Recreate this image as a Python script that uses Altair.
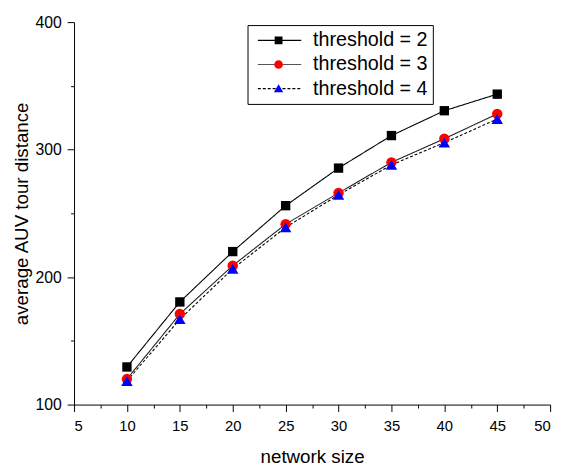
import altair as alt
import pandas as pd

# ---- data ----
network_size = [10, 15, 20, 25, 30, 35, 40, 45]
threshold_2 = [129.5, 180.5, 220, 256, 285.5, 311, 330.5, 343.5]
threshold_3 = [120, 171, 209, 241.5, 266, 290, 308.5, 328]
threshold_4 = [118.5, 167, 206.5, 239, 264.5, 288, 305.5, 324]

series_labels = ["threshold = 2", "threshold = 3", "threshold = 4"]
series_keys = ["m2", "m3", "m4"]
series_values = [threshold_2, threshold_3, threshold_4]

x_tick_values = [5, 7.5, 10, 12.5, 15, 17.5, 20, 22.5, 25, 27.5, 30, 32.5,
                 35, 37.5, 40, 42.5, 45, 47.5, 50]
y_tick_values = [100, 150, 200, 250, 300, 350, 400]

# ---- styles ----
FONT = "Liberation Sans"
line_colors = ["#000000", "#555555", "#000000"]
plot_line_colors = ["#000000", "#222222", "#000000"]
line_dashes = [[1, 0], [1, 0], [3, 2]]
marker_colors = ["#000000", "#ff0000", "#0000ff"]
marker_shapes = ["square", "circle", "triangle-up"]
marker_sizes = [90, 112, 135]
# legend symbols (unit = 22 px): marker only
legend_marker_paths = [
    "M-0.18,-0.18H0.18V0.18H-0.18Z",
    "M-0.2,0A0.2,0.2,0,1,1,0.2,0A0.2,0.2,0,1,1,-0.2,0Z",
    "M0,-0.2L0.215,0.17H-0.215Z",
]

rows = []
for lab, key, vals in zip(series_labels, series_keys, series_values):
    for xv, yv in zip(network_size, vals):
        rows.append({"size": xv, "dist": yv, "series": lab, "series_m": key})
df = pd.DataFrame(rows)

x_enc = alt.X(
    "size:Q",
    title="network size",
    scale=alt.Scale(domain=[5, 50], nice=False, zero=False),
    axis=alt.Axis(
        values=x_tick_values,
        labelExpr="datum.value % 5 === 0 ? datum.label : ''",
        tickSize={"condition": {"test": "datum.value % 5 === 0", "value": 7}, "value": 3.5},
        labelPadding=7,
        titlePadding=15,
        labelFontSize=15,
        titleFontSize=19,
        grid=False,
    ),
)
y_enc = alt.Y(
    "dist:Q",
    title="average AUV tour distance",
    scale=alt.Scale(domain=[100, 400], nice=False, zero=False),
    axis=alt.Axis(
        values=y_tick_values,
        labelExpr="datum.value % 100 === 0 ? datum.label : ''",
        tickSize={"condition": {"test": "datum.value % 100 === 0", "value": 7}, "value": 3.5},
        labelPadding=6,
        titlePadding=4,
        labelFontSize=16,
        titleFontSize=19,
        grid=False,
    ),
)

line_layers = []
point_layers = []
for i, lab in enumerate(series_labels):
    base = alt.Chart(df).transform_filter(alt.datum.series == lab)
    line_layers.append(
        base.mark_line(color=plot_line_colors[i], strokeWidth=1.1, strokeDash=line_dashes[i]).encode(
            x=x_enc, y=y_enc
        )
    )
    point_layers.append(
        base.mark_point(
            shape=marker_shapes[i], filled=True, color=marker_colors[i],
            size=marker_sizes[i], opacity=1,
        ).encode(x=x_enc, y=y_enc)
    )

legend_common = dict(
    title=None,
    orient="none",
    legendX=176,
    legendY=3,
    symbolSize=1936,
    clipHeight=21,
    rowPadding=3.5,
    padding=5,
    symbolOffset=4.5,
    labelOffset=11,
    labelFont=FONT,
    labelFontSize=20,
    labelColor="black",
)

legend_lines = alt.Legend(
    symbolType="M-1,0H1",
    symbolStrokeWidth=1.1,
    strokeColor="black",
    fillColor="white",
    zindex=1,
    **legend_common,
)
legend_markers = alt.Legend(
    symbolStrokeWidth=0,
    labelExpr="''",
    zindex=2,
    **legend_common,
)

legend_line_layer = (
    alt.Chart(df)
    .transform_filter("false")
    .mark_point(shape="M-1,0H1", size=1936, filled=False, opacity=1, strokeWidth=1.1)
    .encode(
        x=x_enc,
        y=y_enc,
        stroke=alt.Stroke("series:N", scale=alt.Scale(domain=series_labels, range=line_colors),
                          legend=legend_lines),
        strokeDash=alt.StrokeDash("series:N", scale=alt.Scale(domain=series_labels, range=line_dashes),
                                  legend=legend_lines),
    )
)
legend_marker_layer = (
    alt.Chart(df)
    .transform_filter("false")
    .mark_point(filled=True, size=1936, opacity=1, strokeWidth=0)
    .encode(
        x=x_enc,
        y=y_enc,
        fill=alt.Fill("series_m:N", scale=alt.Scale(domain=series_keys, range=marker_colors),
                      legend=legend_markers),
        shape=alt.Shape("series_m:N", scale=alt.Scale(domain=series_keys, range=legend_marker_paths),
                        legend=legend_markers),
    )
)

chart = (
    alt.layer(*line_layers, *point_layers, legend_line_layer, legend_marker_layer)
    .properties(
        width=483,
        height=388,
        autosize=alt.AutoSizeParams(type="none"),
        padding={"left": 67, "top": 11, "right": 10, "bottom": 59},
        background="white",
    )
    .configure_view(stroke=None)
    .configure_axis(
        domainColor="black",
        domainWidth=1,
        tickColor="black",
        tickWidth=1,
        labelColor="black",
        titleColor="black",
        labelFont=FONT,
        titleFont=FONT,
        titleFontWeight="normal",
    )
)

chart.save("out.html", embed_options={"renderer": "svg", "actions": False})
